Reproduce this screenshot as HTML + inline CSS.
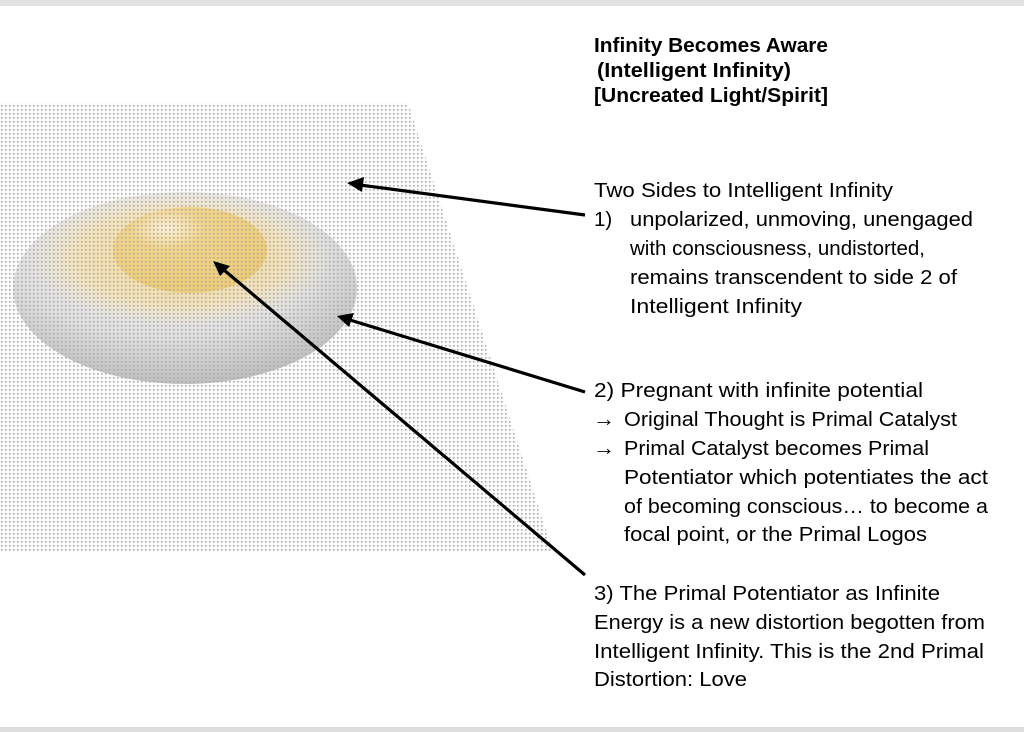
<!DOCTYPE html>
<html><head><meta charset="utf-8"><style>
html,body{margin:0;padding:0;background:#fff}
svg{display:block}
text{font-family:"Liberation Sans",sans-serif;font-size:20.5px;fill:#000}
.b{font-weight:bold}
.ar{font-size:22px;font-weight:bold}
</style></head><body>
<svg width="1024" height="732" viewBox="0 0 1024 732" xmlns="http://www.w3.org/2000/svg">
<defs>
<pattern id="dots" width="4" height="4" patternUnits="userSpaceOnUse">
<rect x="1" y="1" width="1.6" height="1.6" fill="#aaaaaa"/>
</pattern>
<radialGradient id="outer" cx="0.45" cy="0.3" r="0.75">
<stop offset="0" stop-color="#f4f4f4"/>
<stop offset="0.6" stop-color="#e0e0e0"/>
<stop offset="1" stop-color="#b8b8b8"/>
</radialGradient>
<radialGradient id="halo" cx="0.5" cy="0.5" r="0.5">
<stop offset="0" stop-color="#f2d690"/>
<stop offset="0.7" stop-color="#f5e1b0" stop-opacity="0.8"/>
<stop offset="1" stop-color="#f5e6c4" stop-opacity="0"/>
</radialGradient>
<radialGradient id="yolk" cx="0.35" cy="0.25" r="0.8">
<stop offset="0" stop-color="#fbf0d6"/>
<stop offset="0.3" stop-color="#f1d48c"/>
<stop offset="1" stop-color="#eccb78"/>
</radialGradient>
</defs>
<rect x="0" y="0" width="1024" height="6" fill="#e2e2e2"/>
<rect x="0" y="727" width="1024" height="5" fill="#dedede"/>
<polygon points="0,103 408,103 553,552 0,552" fill="#fbfbfb"/>
<ellipse cx="185" cy="288" rx="172" ry="96" fill="url(#outer)"/>
<ellipse cx="180" cy="258" rx="150" ry="68" fill="url(#halo)"/>
<ellipse cx="190" cy="250" rx="77" ry="43" fill="url(#yolk)"/>
<polygon points="0,103 408,103 553,552 0,552" fill="url(#dots)"/>
<g stroke="#000" stroke-width="3.2" fill="none">
<line x1="585" y1="215" x2="360" y2="185"/>
<line x1="585" y1="392" x2="350" y2="320"/>
<line x1="585" y1="575" x2="224" y2="270"/>
</g>
<g fill="#000">
<polygon points="347,183 364,177 362,192"/>
<polygon points="337,316 354,313 349,327"/>
<polygon points="213,261 230,266 220,276"/>
</g>
<text class="b" x="594" y="52" textLength="234" lengthAdjust="spacingAndGlyphs">Infinity Becomes Aware</text>
<text class="b" x="597" y="77" textLength="194" lengthAdjust="spacingAndGlyphs">(Intelligent Infinity)</text>
<text class="b" x="594" y="102" textLength="234" lengthAdjust="spacingAndGlyphs">[Uncreated Light/Spirit]</text>
<text x="594" y="197" textLength="299" lengthAdjust="spacingAndGlyphs">Two Sides to Intelligent Infinity</text>
<text x="594" y="226">1)</text>
<text x="630" y="226" textLength="343" lengthAdjust="spacingAndGlyphs">unpolarized, unmoving, unengaged</text>
<text x="630" y="255" textLength="295" lengthAdjust="spacingAndGlyphs">with consciousness, undistorted,</text>
<text x="630" y="284" textLength="327" lengthAdjust="spacingAndGlyphs">remains transcendent to side 2 of</text>
<text x="630" y="313" textLength="172" lengthAdjust="spacingAndGlyphs">Intelligent Infinity</text>
<text x="594" y="397" textLength="329" lengthAdjust="spacingAndGlyphs">2) Pregnant with infinite potential</text>
<text class="ar" x="593" y="426" textLength="22" lengthAdjust="spacingAndGlyphs">→</text>
<text x="624" y="426" textLength="333" lengthAdjust="spacingAndGlyphs">Original Thought is Primal Catalyst</text>
<text class="ar" x="593" y="455" textLength="22" lengthAdjust="spacingAndGlyphs">→</text>
<text x="624" y="455" textLength="305" lengthAdjust="spacingAndGlyphs">Primal Catalyst becomes Primal</text>
<text x="624" y="484" textLength="364" lengthAdjust="spacingAndGlyphs">Potentiator which potentiates the act</text>
<text x="624" y="513" textLength="364" lengthAdjust="spacingAndGlyphs">of becoming conscious… to become a</text>
<text x="624" y="541" textLength="303" lengthAdjust="spacingAndGlyphs">focal point, or the Primal Logos</text>
<text x="594" y="600" textLength="346" lengthAdjust="spacingAndGlyphs">3) The Primal Potentiator as Infinite</text>
<text x="594" y="629" textLength="391" lengthAdjust="spacingAndGlyphs">Energy is a new distortion begotten from</text>
<text x="594" y="658" textLength="390" lengthAdjust="spacingAndGlyphs">Intelligent Infinity. This is the 2nd Primal</text>
<text x="594" y="686" textLength="153" lengthAdjust="spacingAndGlyphs">Distortion: Love</text>
</svg>
</body></html>
